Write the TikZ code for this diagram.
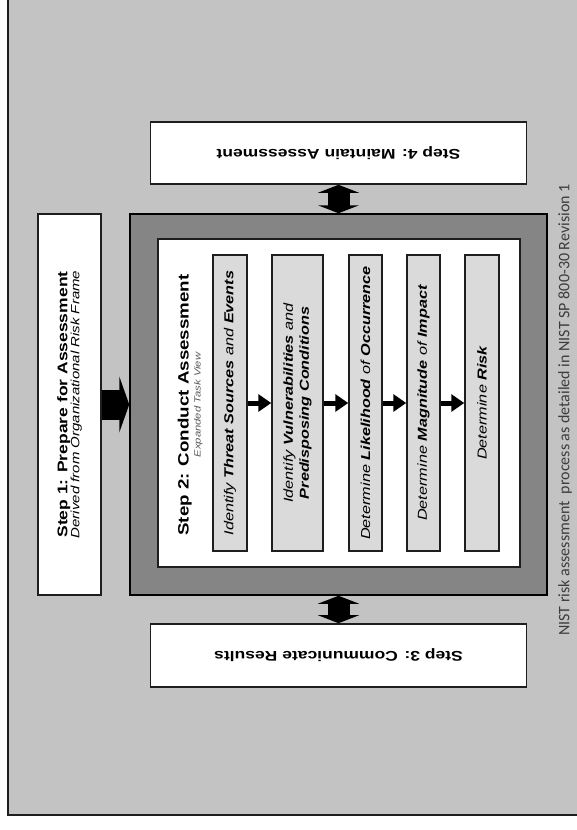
\documentclass[tikz,border=0pt]{standalone}
\usepackage{fontspec}
\setmainfont{Liberation Sans}[FakeStretch=1.25]
\newfontfamily\capfont{Carlito}
\usetikzlibrary{arrows.meta}

\definecolor{panel}{HTML}{C3C3C3}
\definecolor{frame}{HTML}{858585}
\definecolor{taskfill}{HTML}{DADADA}
\definecolor{edge}{HTML}{1E1E1E}
\definecolor{note}{HTML}{3C3C3C}
\definecolor{subtle}{HTML}{5A5A5A}

\tikzset{
  stepbox/.style={draw=edge, fill=white, line width=1.6pt, inner sep=0pt, align=center},
  taskbox/.style={draw=edge, fill=taskfill, line width=1.5pt, rotate=90,
    minimum width=296pt, inner sep=0pt, align=center,
    font=\fontsize{13}{16}\selectfont\itshape},
  flow/.style={line width=5pt, -{Triangle[length=13pt,width=17pt]}},
  bigflow/.style={line width=30pt, -{Triangle[length=10pt,width=56pt]}},
  dblflow/.style={line width=22pt, {Triangle[length=8pt,width=41pt]}-{Triangle[length=8pt,width=41pt]}}
}

\begin{document}
\begin{tikzpicture}[x=1pt,y=-1pt]
  \useasboundingbox (0,0) rectangle (577,830);
  \fill[white] (0,0) rectangle (577,830);
  \fill[panel] (8,0) rectangle (577,815);
  \draw[edge, line width=2pt] (8,0) -- (8,815) -- (577,815);

  % Step 1
  \node[stepbox, rotate=90, minimum width=381pt, minimum height=63pt] (s1) at (69.5,404.5)
    {{\fontsize{14}{17}\selectfont\bfseries Step 1: Prepare for Assessment}\\
     {\fontsize{12}{15}\selectfont\itshape Derived from Organizational Risk Frame}};

  % Step 2 frame and task view
  \node[draw=black, fill=frame, line width=1.5pt, minimum width=417pt, minimum height=381pt, inner sep=0pt]
    (s2) at (338.5,404.5) {};
  \node[draw=edge, fill=white, line width=1.5pt, minimum width=362pt, minimum height=328pt, inner sep=0pt]
    (view) at (339,403) {};
  \node[rotate=90, align=center, inner sep=0pt] (title) at (190,405)
    {{\fontsize{15}{18}\selectfont\bfseries Step 2: Conduct Assessment}\\
     {\fontsize{9}{10}\selectfont\itshape\color{subtle} Expanded Task View}};

  \node[taskbox, minimum height=34pt] (t1) at (230,403)
    {Identify \textbf{Threat Sources} and \textbf{Events}};
  \node[taskbox, minimum height=51pt] (t2) at (297.5,403)
    {Identify \textbf{Vulnerabilities} and\\ \textbf{Predisposing Conditions}};
  \node[taskbox, minimum height=33pt] (t3) at (365.5,403)
    {Determine \textbf{Likelihood} of \textbf{Occurrence}};
  \node[taskbox, minimum height=33pt] (t4) at (423.5,403)
    {Determine \textbf{Magnitude} of \textbf{Impact}};
  \node[taskbox, minimum height=34pt] (t5) at (482,403)
    {Determine \textbf{Risk}};

  \draw[flow] (t1) -- (t2);
  \draw[flow] (t2) -- (t3);
  \draw[flow] (t3) -- (t4);
  \draw[flow] (t4) -- (t5);

  % Steps 3 and 4
  \node[stepbox, rotate=180, minimum width=376pt, minimum height=62pt,
        font=\fontsize{14}{17}\selectfont\bfseries] (s4) at (338.5,153) {Step 4: Maintain Assessment};
  \node[stepbox, rotate=180, minimum width=376pt, minimum height=63pt,
        font=\fontsize{14}{17}\selectfont\bfseries] (s3) at (338.5,655.5) {Step 3: Communicate Results};

  \draw[bigflow] (s1) -- (s2);
  \draw[dblflow] (s4) -- (s2);
  \draw[dblflow] (s2) -- (s3);

  % Caption
  \node[rotate=90, text=note, inner sep=0pt, font=\capfont\fontsize{16}{18}\selectfont] (cap) at (565,410)
    {NIST risk assessment\ \ process as detailed in NIST SP 800-30 Revision 1};
\end{tikzpicture}
\end{document}
